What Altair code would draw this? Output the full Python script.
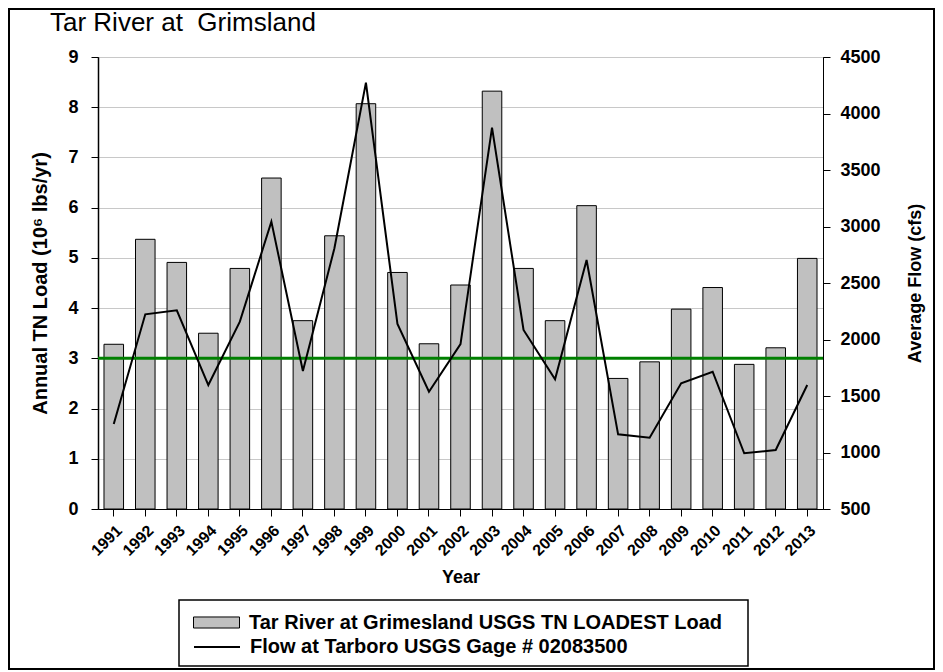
import altair as alt
import pandas as pd

years = [str(y) for y in range(1991, 2014)]
tn_load = [3.28, 5.37, 4.91, 3.50, 4.79, 6.59, 3.75, 5.44, 8.07, 4.71, 3.29, 4.46,
           8.32, 4.79, 3.75, 6.04, 2.60, 2.93, 3.98, 4.41, 2.88, 3.21, 4.99]
flow = [1252, 2223, 2258, 1597, 2158, 3043, 1721, 2807, 4273, 2137, 1538, 1960,
        3875, 2084, 1648, 2704, 1161, 1131, 1612, 1715, 993, 1022, 1597]
target = [3.0]

title_text = "Tar River at\u00a0 Grimsland"
bar_label = "Tar River at Grimesland USGS TN LOADEST Load"
line_label = "Flow at Tarboro USGS Gage # 02083500"

FONT = "Liberation Sans"
W, H = 725, 452
PAD_L, PAD_T, PAD_R, PAD_B = 90, 49, 112, 161

df = pd.DataFrame({"year": years, "load": tn_load, "flow": flow,
                   "s1": bar_label, "s2": line_label})
df_t = pd.DataFrame({"v": target})
df_one = pd.DataFrame({"a": [0]})

xenc = alt.X("year:O", title="Year",
             scale=alt.Scale(paddingInner=0.38, paddingOuter=0.19),
             axis=alt.Axis(labelAngle=315, labelFontSize=16, labelFontWeight="bold",
                           labelFont=FONT, labelColor="black", tickColor="black",
                           domainColor="black", tickSize=7, labelPadding=6,
                           titleFontSize=18, titleFont=FONT, titleFontWeight="bold",
                           titleColor="black", titlePadding=10))

bars = alt.Chart(df).mark_bar(stroke="black", strokeWidth=1).encode(
    x=xenc,
    y=alt.Y("load:Q", title="Annual TN Load (10⁶ lbs/yr)",
            scale=alt.Scale(domain=[0, 9], nice=False),
            axis=alt.Axis(values=list(range(0, 10)), orient="left", grid=True,
                          gridColor="#c8c8c8", labelFontSize=18, labelFontWeight="bold",
                          labelFont=FONT, labelColor="black", tickColor="black",
                          domainColor="black", domainWidth=1.5, tickSize=7,
                          labelPadding=13,
                          titleFontSize=20, titleFont=FONT, titleFontWeight="bold",
                          titleColor="black", titlePadding=17)),
    fill=alt.Fill("s1:N", scale=alt.Scale(range=["#c0c0c0"]),
                  legend=alt.Legend(title=None, orient="none", legendX=95, legendY=542,
                                    symbolType="M-1,-0.24L1,-0.24L1,0.24L-1,0.24Z",
                                    symbolSize=2116, symbolStrokeColor="black",
                                    symbolStrokeWidth=1, symbolOpacity=1,
                                    labelFontSize=20, labelFontWeight="bold",
                                    labelFont=FONT, labelColor="black", labelLimit=800,
                                    labelOffset=9, padding=0)),
)

rule = alt.Chart(df_t).mark_rule(color="#008000", strokeWidth=3).encode(
    y=alt.Y("v:Q", scale=alt.Scale(domain=[0, 9], nice=False), axis=None)
)

line = alt.Chart(df).mark_line(strokeWidth=2).encode(
    x=alt.X("year:O"),
    y=alt.Y("flow:Q", title="Average Flow (cfs)",
            scale=alt.Scale(domain=[500, 4500], nice=False),
            axis=alt.Axis(values=list(range(500, 5000, 500)), format="d",
                          orient="right", grid=False,
                          labelFontSize=18, labelFontWeight="bold", labelFont=FONT,
                          labelColor="black", tickColor="black", domainColor="black",
                          tickSize=7, labelPadding=10, titleFontSize=18, titleFont=FONT,
                          titleFontWeight="bold", titleColor="black",
                          titleAngle=270, titleX=92, titleY=H / 2,
                          titleAlign="center", titleBaseline="middle")),
    stroke=alt.Stroke("s2:N", scale=alt.Scale(range=["black"]),
                      legend=alt.Legend(title=None, orient="none", legendX=95, legendY=566,
                                        symbolType="stroke", symbolSize=2116,
                                        symbolStrokeWidth=2,
                                        labelFontSize=20, labelFontWeight="bold",
                                        labelFont=FONT, labelColor="black", labelLimit=800,
                                        labelOffset=9, padding=0)),
)

title = alt.Chart(df_one).mark_text(
    font=FONT, fontSize=26, color="black", align="left", baseline="alphabetic"
).encode(x=alt.value(-48), y=alt.value(-26), text=alt.value(title_text))

frame = alt.Chart(df_one).mark_rect(fill=None, stroke="black", strokeWidth=2).encode(
    x=alt.value(-PAD_L + 1), x2=alt.value(W + PAD_R - 1),
    y=alt.value(-PAD_T + 1), y2=alt.value(H + PAD_B - 1),
)

legend_box = alt.Chart(df_one).mark_rect(fill=None, stroke="black", strokeWidth=1.5).encode(
    x=alt.value(81), x2=alt.value(650),
    y=alt.value(543), y2=alt.value(609),
)

chart = alt.layer(bars, rule, line, title, legend_box, frame).resolve_scale(
    y="independent"
).properties(
    width=W, height=H,
    autosize=alt.AutoSizeParams(type="none"),
    padding={"left": PAD_L, "top": PAD_T, "right": PAD_R, "bottom": PAD_B},
).configure_view(stroke="black", strokeWidth=1)

chart.save("out.html", embed_options={"renderer": "svg", "actions": False})
